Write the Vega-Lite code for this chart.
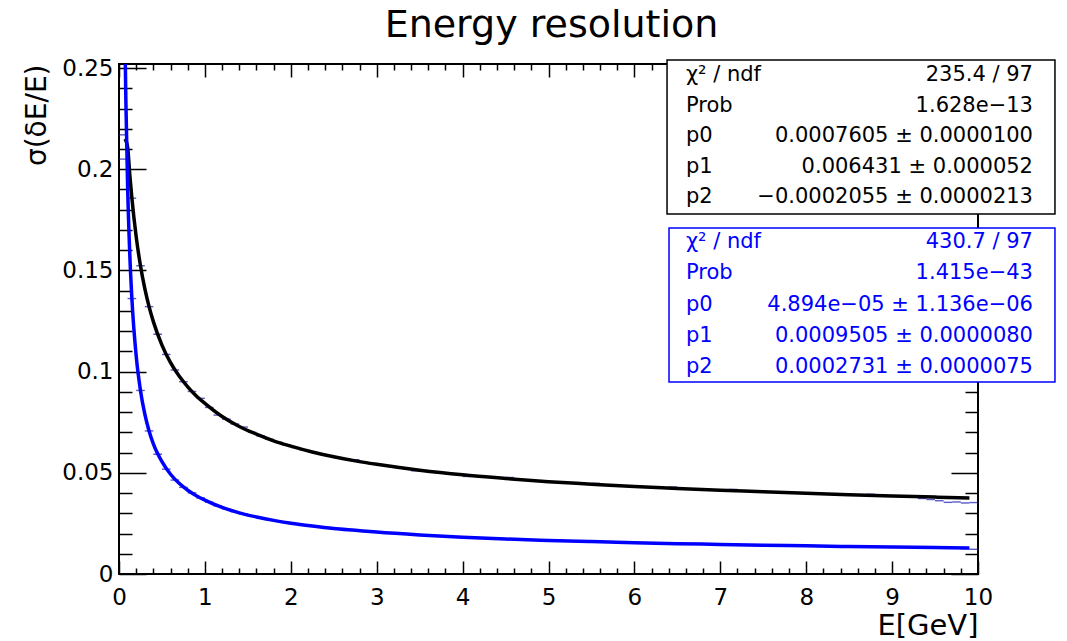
{
  "$schema": "https://vega.github.io/schema/vega-lite/v6.json",
  "autosize": {"type": "none"},
  "padding": {"left": 119, "top": 64, "right": 89, "bottom": 67},
  "width": 859,
  "height": 510,
  "background": "white",
  "config": {
    "view": {"stroke": "black", "strokeWidth": 2},
    "font": "DejaVu Sans"
  },
  "title": {"text": "Energy resolution", "font": "DejaVu Sans", "fontSize": 38, "fontWeight": "normal", "color": "black", "anchor": "middle", "frame": "group", "baseline": "alphabetic", "offset": -18, "dx": 3},
  "datasets": {
    "bins": [
      {"E":0.05,"fit":"black","s":0.2170},{"E":0.15,"fit":"black","s":0.1857},{"E":0.25,"fit":"black","s":0.1523},{"E":0.35,"fit":"black","s":0.1321},{"E":0.45,"fit":"black","s":0.1185},
      {"E":0.55,"fit":"black","s":0.1085},{"E":0.65,"fit":"black","s":0.1008},{"E":0.75,"fit":"black","s":0.0950},{"E":0.85,"fit":"black","s":0.0902},{"E":0.95,"fit":"black","s":0.0868},
      {"E":1.05,"fit":"black","s":0.0823},{"E":1.15,"fit":"black","s":0.0785},{"E":1.25,"fit":"black","s":0.0765},{"E":1.35,"fit":"black","s":0.0741},{"E":1.45,"fit":"black","s":0.0726},
      {"E":1.55,"fit":"black","s":0.0700},{"E":1.65,"fit":"black","s":0.0682},{"E":1.75,"fit":"black","s":0.0666},{"E":1.85,"fit":"black","s":0.0651},{"E":1.95,"fit":"black","s":0.0638},
      {"E":2.05,"fit":"black","s":0.0625},{"E":2.15,"fit":"black","s":0.0614},{"E":2.25,"fit":"black","s":0.0603},{"E":2.35,"fit":"black","s":0.0593},{"E":2.45,"fit":"black","s":0.0584},
      {"E":2.55,"fit":"black","s":0.0575},{"E":2.65,"fit":"black","s":0.0567},{"E":2.75,"fit":"black","s":0.0565},{"E":2.85,"fit":"black","s":0.0552},{"E":2.95,"fit":"black","s":0.0545},
      {"E":3.05,"fit":"black","s":0.0539},{"E":3.15,"fit":"black","s":0.0532},{"E":3.25,"fit":"black","s":0.0527},{"E":3.35,"fit":"black","s":0.0521},{"E":3.45,"fit":"black","s":0.0510},
      {"E":3.55,"fit":"black","s":0.0511},{"E":3.65,"fit":"black","s":0.0506},{"E":3.75,"fit":"black","s":0.0501},{"E":3.85,"fit":"black","s":0.0497},{"E":3.95,"fit":"black","s":0.0492},
      {"E":4.05,"fit":"black","s":0.0482},{"E":4.15,"fit":"black","s":0.0484},{"E":4.25,"fit":"black","s":0.0481},{"E":4.35,"fit":"black","s":0.0477},{"E":4.45,"fit":"black","s":0.0474},
      {"E":4.55,"fit":"black","s":0.0477},{"E":4.65,"fit":"black","s":0.0467},{"E":4.75,"fit":"black","s":0.0464},{"E":4.85,"fit":"black","s":0.0461},{"E":4.95,"fit":"black","s":0.0458},
      {"E":5.05,"fit":"black","s":0.0455},{"E":5.15,"fit":"black","s":0.0452},{"E":5.25,"fit":"black","s":0.0450},{"E":5.35,"fit":"black","s":0.0447},{"E":5.45,"fit":"black","s":0.0445},
      {"E":5.55,"fit":"black","s":0.0448},{"E":5.65,"fit":"black","s":0.0440},{"E":5.75,"fit":"black","s":0.0438},{"E":5.85,"fit":"black","s":0.0436},{"E":5.95,"fit":"black","s":0.0433},
      {"E":6.05,"fit":"black","s":0.0431},{"E":6.15,"fit":"black","s":0.0429},{"E":6.25,"fit":"black","s":0.0427},{"E":6.35,"fit":"black","s":0.0425},{"E":6.45,"fit":"black","s":0.0430},
      {"E":6.55,"fit":"black","s":0.0422},{"E":6.65,"fit":"black","s":0.0420},{"E":6.75,"fit":"black","s":0.0418},{"E":6.85,"fit":"black","s":0.0417},{"E":6.95,"fit":"black","s":0.0415},
      {"E":7.05,"fit":"black","s":0.0413},{"E":7.15,"fit":"black","s":0.0418},{"E":7.25,"fit":"black","s":0.0410},{"E":7.35,"fit":"black","s":0.0409},{"E":7.45,"fit":"black","s":0.0407},
      {"E":7.55,"fit":"black","s":0.0406},{"E":7.65,"fit":"black","s":0.0405},{"E":7.75,"fit":"black","s":0.0403},{"E":7.85,"fit":"black","s":0.0402},{"E":7.95,"fit":"black","s":0.0401},
      {"E":8.05,"fit":"black","s":0.0396},{"E":8.15,"fit":"black","s":0.0395},{"E":8.25,"fit":"black","s":0.0394},{"E":8.35,"fit":"black","s":0.0393},{"E":8.45,"fit":"black","s":0.0392},
      {"E":8.55,"fit":"black","s":0.0391},{"E":8.65,"fit":"black","s":0.0389},{"E":8.75,"fit":"black","s":0.0394},{"E":8.85,"fit":"black","s":0.0387},{"E":8.95,"fit":"black","s":0.0386},
      {"E":9.05,"fit":"black","s":0.0385},{"E":9.15,"fit":"black","s":0.0384},{"E":9.25,"fit":"black","s":0.0382},{"E":9.35,"fit":"black","s":0.0373},{"E":9.45,"fit":"black","s":0.0368},
      {"E":9.55,"fit":"black","s":0.0362},{"E":9.65,"fit":"black","s":0.0354},{"E":9.75,"fit":"black","s":0.0356},{"E":9.85,"fit":"black","s":0.0351},{"E":9.95,"fit":"black","s":0.0353},
      {"E":0.05,"fit":"blue","s":0.2050},{"E":0.15,"fit":"blue","s":0.1361},{"E":0.25,"fit":"blue","s":0.0907},{"E":0.35,"fit":"blue","s":0.0707},{"E":0.45,"fit":"blue","s":0.0592},
      {"E":0.55,"fit":"blue","s":0.0518},{"E":0.65,"fit":"blue","s":0.0464},{"E":0.75,"fit":"blue","s":0.0428},{"E":0.85,"fit":"blue","s":0.0401},{"E":0.95,"fit":"blue","s":0.0376},
      {"E":1.05,"fit":"blue","s":0.0355},{"E":1.15,"fit":"blue","s":0.0337},{"E":1.25,"fit":"blue","s":0.0322},{"E":1.35,"fit":"blue","s":0.0308},{"E":1.45,"fit":"blue","s":0.0297},
      {"E":1.55,"fit":"blue","s":0.0287},{"E":1.65,"fit":"blue","s":0.0277},{"E":1.75,"fit":"blue","s":0.0269},{"E":1.85,"fit":"blue","s":0.0262},{"E":1.95,"fit":"blue","s":0.0255},
      {"E":2.05,"fit":"blue","s":0.0248},{"E":2.15,"fit":"blue","s":0.0243},{"E":2.25,"fit":"blue","s":0.0237},{"E":2.35,"fit":"blue","s":0.0232},{"E":2.45,"fit":"blue","s":0.0228},
      {"E":2.55,"fit":"blue","s":0.0223},{"E":2.65,"fit":"blue","s":0.0219},{"E":2.75,"fit":"blue","s":0.0216},{"E":2.85,"fit":"blue","s":0.0212},{"E":2.95,"fit":"blue","s":0.0209},
      {"E":3.05,"fit":"blue","s":0.0206},{"E":3.15,"fit":"blue","s":0.0202},{"E":3.25,"fit":"blue","s":0.0200},{"E":3.35,"fit":"blue","s":0.0197},{"E":3.45,"fit":"blue","s":0.0194},
      {"E":3.55,"fit":"blue","s":0.0192},{"E":3.65,"fit":"blue","s":0.0190},{"E":3.75,"fit":"blue","s":0.0187},{"E":3.85,"fit":"blue","s":0.0185},{"E":3.95,"fit":"blue","s":0.0183},
      {"E":4.05,"fit":"blue","s":0.0181},{"E":4.15,"fit":"blue","s":0.0180},{"E":4.25,"fit":"blue","s":0.0178},{"E":4.35,"fit":"blue","s":0.0176},{"E":4.45,"fit":"blue","s":0.0174},
      {"E":4.55,"fit":"blue","s":0.0173},{"E":4.65,"fit":"blue","s":0.0171},{"E":4.75,"fit":"blue","s":0.0170},{"E":4.85,"fit":"blue","s":0.0168},{"E":4.95,"fit":"blue","s":0.0167},
      {"E":5.05,"fit":"blue","s":0.0165},{"E":5.15,"fit":"blue","s":0.0164},{"E":5.25,"fit":"blue","s":0.0163},{"E":5.35,"fit":"blue","s":0.0162},{"E":5.45,"fit":"blue","s":0.0161},
      {"E":5.55,"fit":"blue","s":0.0159},{"E":5.65,"fit":"blue","s":0.0158},{"E":5.75,"fit":"blue","s":0.0157},{"E":5.85,"fit":"blue","s":0.0156},{"E":5.95,"fit":"blue","s":0.0155},
      {"E":6.05,"fit":"blue","s":0.0154},{"E":6.15,"fit":"blue","s":0.0153},{"E":6.25,"fit":"blue","s":0.0152},{"E":6.35,"fit":"blue","s":0.0151},{"E":6.45,"fit":"blue","s":0.0150},
      {"E":6.55,"fit":"blue","s":0.0150},{"E":6.65,"fit":"blue","s":0.0149},{"E":6.75,"fit":"blue","s":0.0148},{"E":6.85,"fit":"blue","s":0.0147},{"E":6.95,"fit":"blue","s":0.0146},
      {"E":7.05,"fit":"blue","s":0.0146},{"E":7.15,"fit":"blue","s":0.0145},{"E":7.25,"fit":"blue","s":0.0144},{"E":7.35,"fit":"blue","s":0.0143},{"E":7.45,"fit":"blue","s":0.0143},
      {"E":7.55,"fit":"blue","s":0.0142},{"E":7.65,"fit":"blue","s":0.0141},{"E":7.75,"fit":"blue","s":0.0141},{"E":7.85,"fit":"blue","s":0.0140},{"E":7.95,"fit":"blue","s":0.0139},
      {"E":8.05,"fit":"blue","s":0.0139},{"E":8.15,"fit":"blue","s":0.0138},{"E":8.25,"fit":"blue","s":0.0138},{"E":8.35,"fit":"blue","s":0.0137},{"E":8.45,"fit":"blue","s":0.0137},
      {"E":8.55,"fit":"blue","s":0.0136},{"E":8.65,"fit":"blue","s":0.0136},{"E":8.75,"fit":"blue","s":0.0135},{"E":8.85,"fit":"blue","s":0.0134},{"E":8.95,"fit":"blue","s":0.0134},
      {"E":9.05,"fit":"blue","s":0.0133},{"E":9.15,"fit":"blue","s":0.0133},{"E":9.25,"fit":"blue","s":0.0133},{"E":9.35,"fit":"blue","s":0.0132},{"E":9.45,"fit":"blue","s":0.0132},
      {"E":9.55,"fit":"blue","s":0.0131},{"E":9.65,"fit":"blue","s":0.0131},{"E":9.75,"fit":"blue","s":0.0130},{"E":9.85,"fit":"blue","s":0.0125},{"E":9.95,"fit":"blue","s":0.0122}
    ],
    "fits": [
      {"E":0.07,"fit":"black","s":0.2150},{"E":0.1,"fit":"black","s":0.2110},{"E":0.125,"fit":"black","s":0.1976},{"E":0.15,"fit":"black","s":0.1857},{"E":0.2,"fit":"black","s":0.1667},
      {"E":0.25,"fit":"black","s":0.1523},{"E":0.3,"fit":"black","s":0.1411},{"E":0.35,"fit":"black","s":0.1321},{"E":0.4,"fit":"black","s":0.1247},{"E":0.5,"fit":"black","s":0.1131},
      {"E":0.6,"fit":"black","s":0.1044},{"E":0.7,"fit":"black","s":0.0978},{"E":0.8,"fit":"black","s":0.0925},{"E":0.9,"fit":"black","s":0.0880},{"E":1.0,"fit":"black","s":0.0843},
      {"E":1.2,"fit":"black","s":0.0778},{"E":1.4,"fit":"black","s":0.0729},{"E":1.6,"fit":"black","s":0.0691},{"E":1.8,"fit":"black","s":0.0658},{"E":2.0,"fit":"black","s":0.0632},
      {"E":2.25,"fit":"black","s":0.0603},{"E":2.5,"fit":"black","s":0.0579},{"E":2.75,"fit":"black","s":0.0559},{"E":3.0,"fit":"black","s":0.0542},{"E":3.5,"fit":"black","s":0.0513},
      {"E":4.0,"fit":"black","s":0.0490},{"E":4.5,"fit":"black","s":0.0472},{"E":5.0,"fit":"black","s":0.0456},{"E":5.5,"fit":"black","s":0.0444},{"E":6.0,"fit":"black","s":0.0432},
      {"E":6.5,"fit":"black","s":0.0423},{"E":7.0,"fit":"black","s":0.0414},{"E":7.5,"fit":"black","s":0.0407},{"E":8.0,"fit":"black","s":0.0399},{"E":8.5,"fit":"black","s":0.0392},
      {"E":9.0,"fit":"black","s":0.0386},{"E":9.5,"fit":"black","s":0.0380},{"E":9.9,"fit":"black","s":0.0376},
      {"E":0.07,"fit":"blue","s":0.2630},{"E":0.08,"fit":"blue","s":0.2337},{"E":0.1,"fit":"blue","s":0.1920},{"E":0.125,"fit":"blue","s":0.1585},{"E":0.15,"fit":"blue","s":0.1361},
      {"E":0.2,"fit":"blue","s":0.1078},{"E":0.25,"fit":"blue","s":0.0907},{"E":0.3,"fit":"blue","s":0.0791},{"E":0.35,"fit":"blue","s":0.0707},{"E":0.4,"fit":"blue","s":0.0643},
      {"E":0.5,"fit":"blue","s":0.0555},{"E":0.6,"fit":"blue","s":0.0493},{"E":0.7,"fit":"blue","s":0.0448},{"E":0.8,"fit":"blue","s":0.0414},{"E":0.9,"fit":"blue","s":0.0387},
      {"E":1.0,"fit":"blue","s":0.0365},{"E":1.2,"fit":"blue","s":0.0329},{"E":1.4,"fit":"blue","s":0.0302},{"E":1.6,"fit":"blue","s":0.0282},{"E":1.8,"fit":"blue","s":0.0265},
      {"E":2.0,"fit":"blue","s":0.0251},{"E":2.25,"fit":"blue","s":0.0237},{"E":2.5,"fit":"blue","s":0.0225},{"E":2.75,"fit":"blue","s":0.0216},{"E":3.0,"fit":"blue","s":0.0207},
      {"E":3.5,"fit":"blue","s":0.0193},{"E":4.0,"fit":"blue","s":0.0182},{"E":4.5,"fit":"blue","s":0.0173},{"E":5.0,"fit":"blue","s":0.0166},{"E":5.5,"fit":"blue","s":0.0160},
      {"E":6.0,"fit":"blue","s":0.0155},{"E":6.5,"fit":"blue","s":0.0150},{"E":7.0,"fit":"blue","s":0.0146},{"E":7.5,"fit":"blue","s":0.0142},{"E":8.0,"fit":"blue","s":0.0139},
      {"E":8.5,"fit":"blue","s":0.0136},{"E":9.0,"fit":"blue","s":0.0134},{"E":9.5,"fit":"blue","s":0.0131},{"E":9.9,"fit":"blue","s":0.0129}
    ],
    "stats": [
      {"fit":"black","row":1,"label":"χ² / ndf","value":"235.4 / 97"},
      {"fit":"black","row":2,"label":"Prob","value":"1.628e−13"},
      {"fit":"black","row":3,"label":"p0","value":"0.0007605 ± 0.0000100"},
      {"fit":"black","row":4,"label":"p1","value":"0.006431 ± 0.000052"},
      {"fit":"black","row":5,"label":"p2","value":"−0.0002055 ± 0.0000213"},
      {"fit":"blue","row":6,"label":"χ² / ndf","value":"430.7 / 97"},
      {"fit":"blue","row":7,"label":"Prob","value":"1.415e−43"},
      {"fit":"blue","row":8,"label":"p0","value":"4.894e−05 ± 1.136e−06"},
      {"fit":"blue","row":9,"label":"p1","value":"0.0009505 ± 0.0000080"},
      {"fit":"blue","row":10,"label":"p2","value":"0.0002731 ± 0.0000075"}
    ]
  },
  "resolve": {"scale": {"y": "independent"}, "axis": {"x": "independent", "y": "independent"}},
  "layer": [
    {
      "data": {"name": "bins"},
      "mark": {"type": "tick", "orient": "horizontal", "size": 8.6, "thickness": 1.4, "color": "#1414b4", "clip": true},
      "encoding": {
        "x": {"field": "E", "type": "quantitative", "scale": {"domain": [0, 10], "nice": false, "zero": false},
          "axis": {"orient": "bottom", "domain": false, "grid": false,
            "values": [0,0.2,0.4,0.6,0.8,1,1.2,1.4,1.6,1.8,2,2.2,2.4,2.6,2.8,3,3.2,3.4,3.6,3.8,4,4.2,4.4,4.6,4.8,5,5.2,5.4,5.6,5.8,6,6.2,6.4,6.6,6.8,7,7.2,7.4,7.6,7.8,8,8.2,8.4,8.6,8.8,9,9.2,9.4,9.6,9.8,10],
            "format": "~g",
            "tickColor": "black", "tickWidth": 1.5,
            "tickSize": {"condition": {"test": "abs(datum.value - round(datum.value)) < 0.001", "value": -13}, "value": -6},
            "labelExpr": "abs(datum.value - round(datum.value)) < 0.001 ? datum.label : ''",
            "labelFont": "DejaVu Sans", "labelFontSize": 23, "labelColor": "black", "labelPadding": 25, "labelOverlap": false, "labelFlush": false,
            "title": "E[GeV]", "titleAnchor": "end", "titleFont": "DejaVu Sans", "titleFontSize": 29, "titleFontWeight": "normal", "titleColor": "black", "titlePadding": -5}},
        "y": {"field": "s", "type": "quantitative", "scale": {"domain": [0, 0.252], "nice": false, "zero": false},
          "axis": {"orient": "left", "domain": false, "grid": false,
            "values": [0,0.01,0.02,0.03,0.04,0.05,0.06,0.07,0.08,0.09,0.1,0.11,0.12,0.13,0.14,0.15,0.16,0.17,0.18,0.19,0.2,0.21,0.22,0.23,0.24,0.25],
            "format": "~g",
            "tickColor": "black", "tickWidth": 1.5,
            "tickSize": {"condition": {"test": "abs(datum.value * 20 - round(datum.value * 20)) < 0.001", "value": -27}, "value": -13},
            "labelExpr": "abs(datum.value * 20 - round(datum.value * 20)) < 0.001 ? datum.label : ''",
            "labelFont": "DejaVu Sans", "labelFontSize": 23, "labelColor": "black", "labelPadding": 33, "labelOverlap": false, "labelFlush": false,
            "title": "σ(δE/E)", "titleAnchor": "end", "titleFont": "DejaVu Sans", "titleFontSize": 28, "titleFontWeight": "normal", "titleColor": "black", "titlePadding": 10}}
      }
    },
    {
      "data": {"name": "fits"},
      "mark": {"type": "line", "strokeWidth": 3.5, "interpolate": "monotone", "clip": true},
      "encoding": {
        "x": {"field": "E", "type": "quantitative", "scale": {"domain": [0, 10], "nice": false, "zero": false},
          "axis": {"orient": "top", "domain": false, "grid": false, "labels": false, "title": null,
            "values": [0,0.2,0.4,0.6,0.8,1,1.2,1.4,1.6,1.8,2,2.2,2.4,2.6,2.8,3,3.2,3.4,3.6,3.8,4,4.2,4.4,4.6,4.8,5,5.2,5.4,5.6,5.8,6,6.2,6.4,6.6,6.8,7,7.2,7.4,7.6,7.8,8,8.2,8.4,8.6,8.8,9,9.2,9.4,9.6,9.8,10],
            "tickColor": "black", "tickWidth": 1.5,
            "tickSize": {"condition": {"test": "abs(datum.value - round(datum.value)) < 0.001", "value": -13}, "value": -6}}},
        "y": {"field": "s", "type": "quantitative", "scale": {"domain": [0, 0.252], "nice": false, "zero": false},
          "axis": {"orient": "right", "domain": false, "grid": false, "labels": false, "title": null,
            "values": [0,0.01,0.02,0.03,0.04,0.05,0.06,0.07,0.08,0.09,0.1,0.11,0.12,0.13,0.14,0.15,0.16,0.17,0.18,0.19,0.2,0.21,0.22,0.23,0.24,0.25],
            "tickColor": "black", "tickWidth": 1.5,
            "tickSize": {"condition": {"test": "abs(datum.value * 20 - round(datum.value * 20)) < 0.001", "value": -27}, "value": -13}}},
        "color": {"field": "fit", "type": "nominal", "scale": {"domain": ["black", "blue"], "range": ["#000000", "#0000ff"]}, "legend": null}
      }
    },
    {
      "data": {"values": [{"box": "black"}]},
      "mark": {"type": "rect", "fill": "white", "stroke": "black", "strokeWidth": 1.5},
      "encoding": {
        "x": {"datum": 6.38, "type": "quantitative", "axis": null},
        "x2": {"datum": 10.896},
        "y": {"datum": 0.254, "type": "quantitative", "scale": {"domain": [0, 0.252], "nice": false, "zero": false}, "axis": null},
        "y2": {"datum": 0.1779}
      }
    },
    {
      "data": {"values": [{"box": "blue"}]},
      "mark": {"type": "rect", "fill": "white", "stroke": "#0000ff", "strokeWidth": 1.5},
      "encoding": {
        "x": {"datum": 6.403, "type": "quantitative", "axis": null},
        "x2": {"datum": 10.896},
        "y": {"datum": 0.1710, "type": "quantitative", "scale": {"domain": [0, 0.252], "nice": false, "zero": false}, "axis": null},
        "y2": {"datum": 0.0949}
      }
    },
    {
      "data": {"name": "stats"},
      "mark": {"type": "text", "align": "left", "baseline": "middle", "font": "DejaVu Sans", "fontSize": 21},
      "encoding": {
        "x": {"datum": 6.6, "type": "quantitative", "axis": null},
        "y": {"field": "row", "type": "quantitative", "scale": {"domain": [1, 5, 6, 10], "range": [11, 133, 178, 303]}, "axis": null},
        "text": {"field": "label"},
        "color": {"field": "fit", "type": "nominal", "scale": {"domain": ["black", "blue"], "range": ["#000000", "#0000ff"]}, "legend": null}
      }
    },
    {
      "data": {"name": "stats"},
      "mark": {"type": "text", "align": "right", "baseline": "middle", "font": "DejaVu Sans", "fontSize": 21},
      "encoding": {
        "x": {"datum": 10.64, "type": "quantitative", "axis": null},
        "y": {"field": "row", "type": "quantitative", "scale": {"domain": [1, 5, 6, 10], "range": [11, 133, 178, 303]}, "axis": null},
        "text": {"field": "value"},
        "color": {"field": "fit", "type": "nominal", "scale": {"domain": ["black", "blue"], "range": ["#000000", "#0000ff"]}, "legend": null}
      }
    }
  ]
}
